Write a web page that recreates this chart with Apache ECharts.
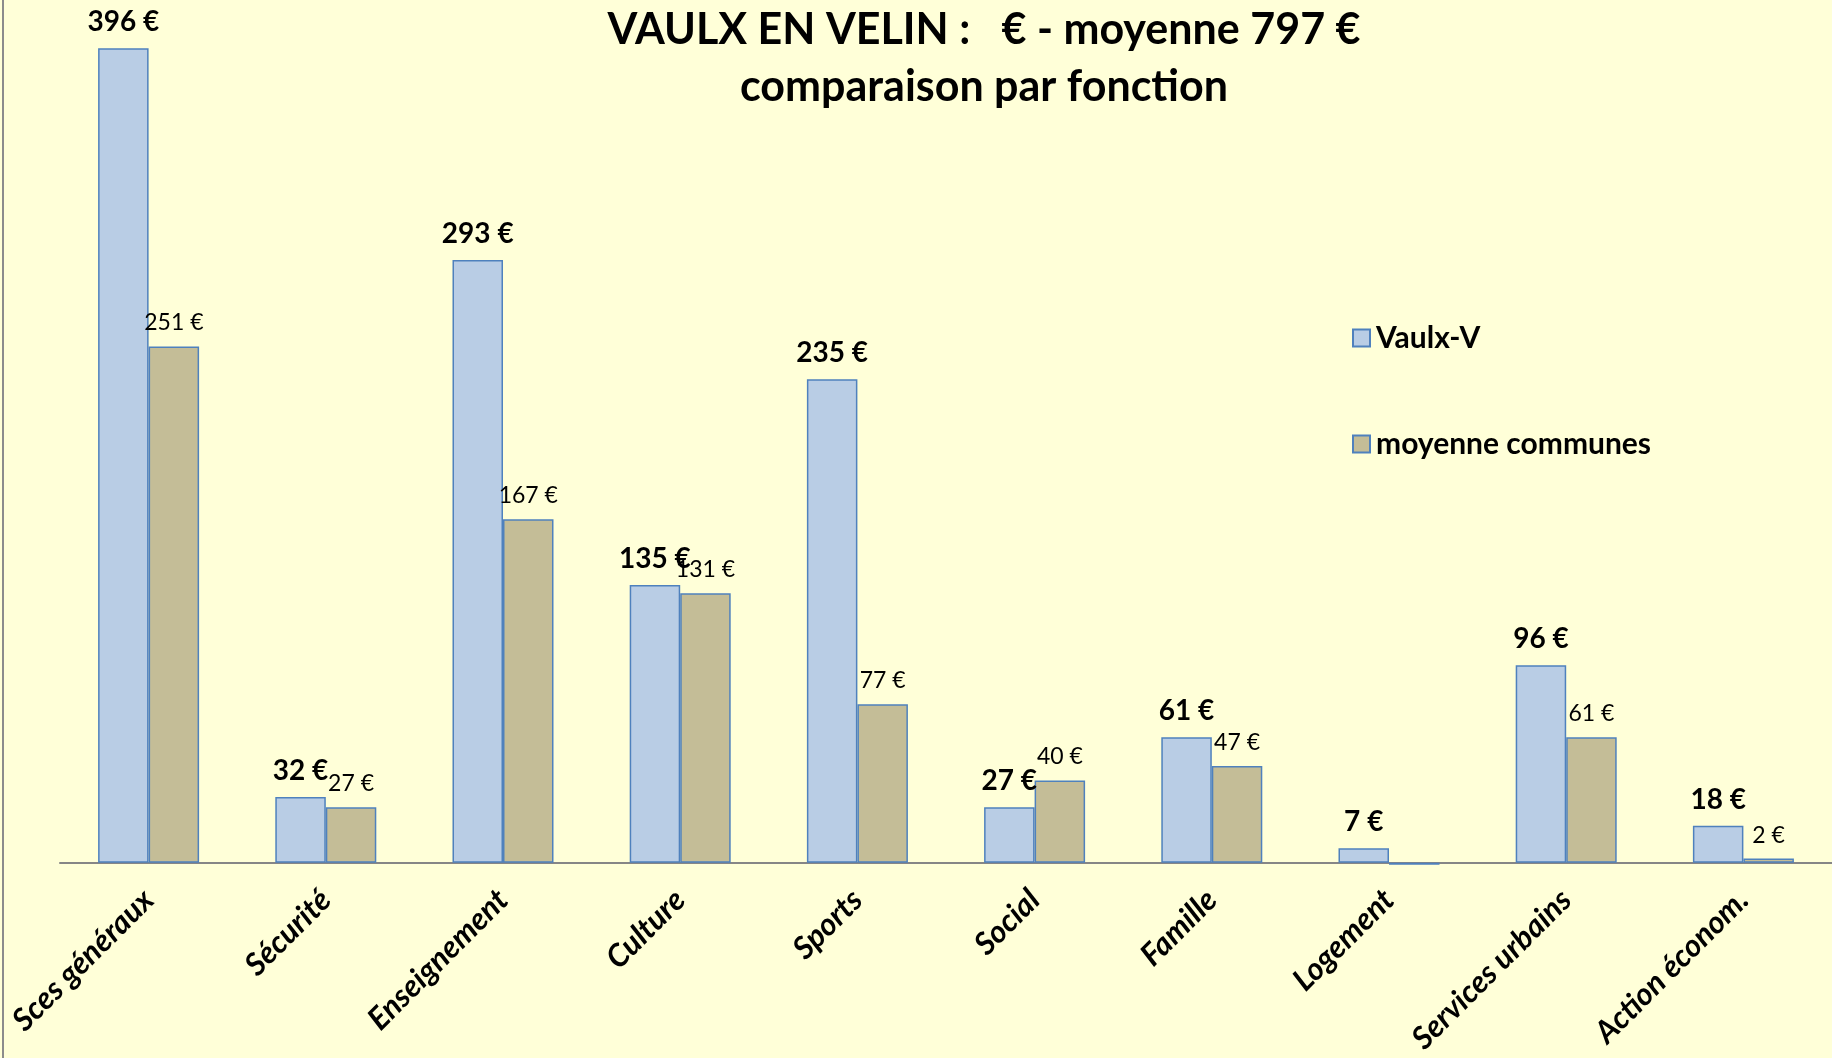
<!DOCTYPE html>
<html>
<head>
<meta charset="utf-8">
<title>VAULX EN VELIN - comparaison par fonction</title>
<script src="https://cdn.jsdelivr.net/npm/echarts@6/dist/echarts.min.js"></script>
<style>
  html, body { margin: 0; padding: 0; background: #ffffd8; }
  #chart { width: 1832px; height: 1058px; }
</style>
</head>
<body>
<div id="chart"></div>
<script>
// fonctions
const categories = [
  "Sces généraux", "Sécurité", "Enseignement", "Culture", "Sports",
  "Social", "Famille", "Logement", "Services urbains", "Action économ."
];
// euros par habitant
const vaulxValues = [396, 32, 293, 135, 235, 27, 61, 7, 96, 18];
const moyenneValues = [251, 27, 167, 131, 77, 40, 47, -1, 61, 2];

const FONT = "Lato";

const chart = echarts.init(document.getElementById("chart"));

chart.setOption({
  backgroundColor: "#ffffd8",
  animation: false,
  title: {
    text: "VAULX EN VELIN :   € - moyenne 797 €\ncomparaison par fonction",
    left: 979,
    top: -3,
    textAlign: "center",
    textStyle: {
      fontFamily: FONT,
      fontWeight: "bold",
      fontSize: 43,
      lineHeight: 57,
      color: "#000"
    }
  },
  legend: {
    orient: "vertical",
    left: 1347,
    top: 318,
    itemWidth: 17,
    itemHeight: 17,
    itemGap: 76,
    icon: "rect",
    data: ["Vaulx-V", "moyenne communes"],
    textStyle: {
      fontFamily: FONT,
      fontWeight: "bold",
      fontSize: 30,
      color: "#000",
      padding: [0, 0, 0, 1]
    }
  },
  grid: {
    left: 60,
    top: 40,
    width: 1775,
    bottom: 185
  },
  xAxis: {
    type: "category",
    data: categories,
    axisLine: { lineStyle: { color: "#868686", width: 2 } },
    axisTick: { length: 10, lineStyle: { color: "#868686", width: 2 } },
    axisLabel: {
      interval: 0,
      rotate: 45,
      margin: 22,
      fontFamily: FONT,
      fontWeight: "bold",
      fontStyle: "italic",
      fontSize: 31,
      color: "#000"
    }
  },
  yAxis: {
    type: "value",
    min: -5,
    max: 400,
    show: false,
    splitLine: { show: false }
  },
  graphic: [
    {
      type: "line",
      shape: { x1: 3, y1: 0, x2: 3, y2: 1058 },
      style: { stroke: "#8c8c8c", lineWidth: 2 }
    }
  ],
  series: [
    {
      name: "Vaulx-V",
      type: "bar",
      data: vaulxValues,
      barGap: "0%",
      barCategoryGap: "43%",
      itemStyle: { color: "#b9cde5", borderColor: "#4f81bd", borderWidth: 1.5 },
      label: {
        show: true,
        position: "top",
        distance: 12,
        formatter: "{c} €",
        fontFamily: FONT,
        fontWeight: "bold",
        fontSize: 28,
        color: "#000"
      }
    },
    {
      name: "moyenne communes",
      type: "bar",
      data: moyenneValues.map(v => (v < 0 ? { value: v, label: { show: false } } : v)),
      itemStyle: { color: "#c4bd97", borderColor: "#4f81bd", borderWidth: 1.5 },
      label: {
        show: true,
        position: "top",
        distance: 12,
        formatter: "{c} €",
        fontFamily: FONT,
        fontSize: 23,
        color: "#000"
      }
    }
  ]
});
</script>
</body>
</html>
